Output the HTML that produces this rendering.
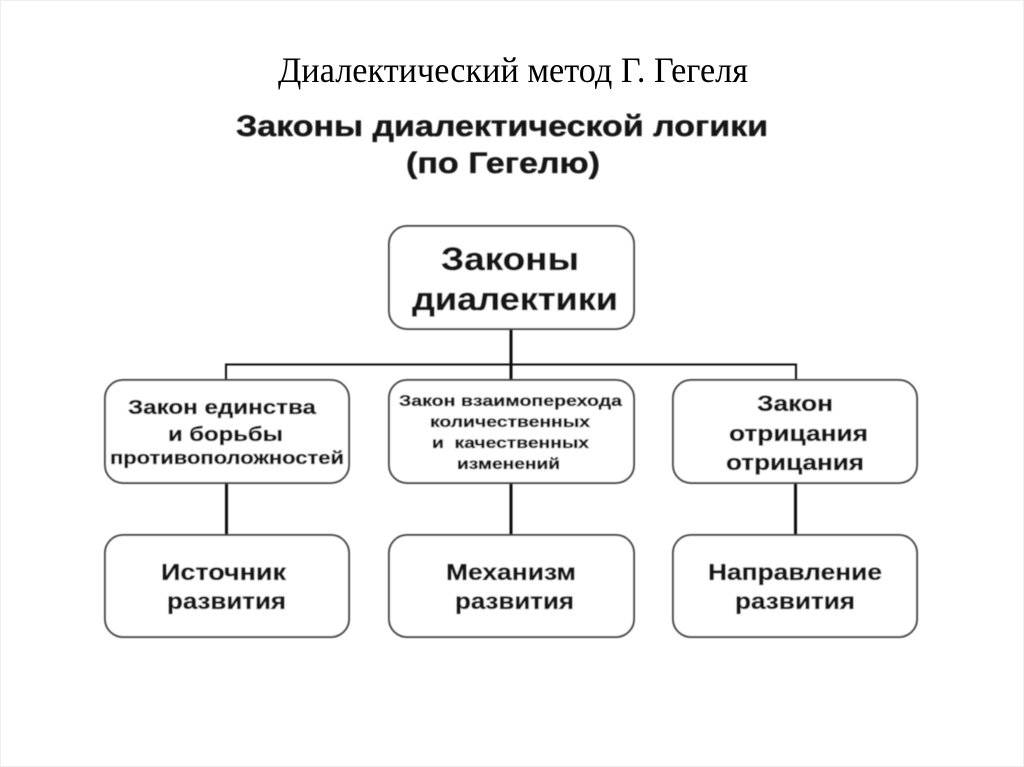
<!DOCTYPE html>
<html lang="ru">
<head>
<meta charset="utf-8">
<title>Диалектический метод Г. Гегеля</title>
<style>
html,body{margin:0;padding:0;background:#fff;width:1024px;height:767px;overflow:hidden}
svg{display:block}
.s{font-family:"Liberation Sans",sans-serif;font-weight:bold;fill:#141414;stroke:#141414;stroke-width:.35px}
</style>
</head>
<body>
<svg width="1024" height="767" viewBox="0 0 1024 767" xmlns="http://www.w3.org/2000/svg">
<defs><filter id="b" x="-5%" y="-5%" width="110%" height="110%"><feGaussianBlur stdDeviation="0.55"/></filter></defs>
<rect width="1024" height="767" fill="#fff"/>
<rect x="0.500" y="0.500" width="1023" height="766" fill="none" stroke="#eeeeee"/>
<text x="278" y="82" font-family="'Liberation Serif',serif" font-size="35.500" fill="#000" textLength="470" lengthAdjust="spacingAndGlyphs">Диалектический метод Г. Гегеля</text>
<g filter="url(#b)">
<g class="s">
<text x="236" y="136" font-size="30" textLength="532" lengthAdjust="spacingAndGlyphs">Законы диалектической логики</text>
<text x="406" y="173" font-size="30" textLength="194" lengthAdjust="spacingAndGlyphs">(по Гегелю)</text>
</g>
<g fill="none" stroke="#111">
<path d="M226 381V364.500H796V381" stroke-width="2"/>
<path d="M511 329V380M226.500 483V535M511 483V535M795.500 483V535" stroke-width="3"/>
</g>
<g fill="#fff" stroke="#444" stroke-width="2">
<rect x="389" y="226" width="245" height="103" rx="18"/>
<rect x="105" y="380" width="244" height="103" rx="18"/>
<rect x="389" y="380" width="245" height="103" rx="18"/>
<rect x="673" y="380" width="244" height="103" rx="18"/>
<rect x="105" y="535" width="244" height="102" rx="18"/>
<rect x="389" y="535" width="245" height="102" rx="18"/>
<rect x="673" y="535" width="244" height="102" rx="18"/>
</g>
<g class="s">
<text x="441" y="270" font-size="32" textLength="138" lengthAdjust="spacingAndGlyphs">Законы</text>
<text x="412" y="310" font-size="32" textLength="206" lengthAdjust="spacingAndGlyphs">диалектики</text>
<text x="128" y="414" font-size="20" textLength="188" lengthAdjust="spacingAndGlyphs">Закон единства</text>
<text x="168" y="441" font-size="20" textLength="115" lengthAdjust="spacingAndGlyphs">и борьбы</text>
<text x="110" y="464" font-size="18" textLength="234" lengthAdjust="spacingAndGlyphs">противоположностей</text>
<text x="399" y="406" font-size="16" textLength="223" lengthAdjust="spacingAndGlyphs">Закон взаимоперехода</text>
<text x="430" y="427" font-size="16" textLength="160" lengthAdjust="spacingAndGlyphs">количественных</text>
<text x="432" y="448" font-size="16" textLength="157" lengthAdjust="spacingAndGlyphs" xml:space="preserve">и  качественных</text>
<text x="457" y="469" font-size="16" textLength="103" lengthAdjust="spacingAndGlyphs">изменений</text>
<text x="757" y="411" font-size="22" textLength="76" lengthAdjust="spacingAndGlyphs">Закон</text>
<text x="729" y="441" font-size="22" textLength="139" lengthAdjust="spacingAndGlyphs">отрицания</text>
<text x="726" y="470" font-size="22" textLength="138" lengthAdjust="spacingAndGlyphs">отрицания</text>
<text x="161" y="580" font-size="23.500" textLength="125" lengthAdjust="spacingAndGlyphs">Источник</text>
<text x="167" y="609" font-size="23.500" textLength="119" lengthAdjust="spacingAndGlyphs">развития</text>
<text x="446" y="580" font-size="23.500" textLength="130" lengthAdjust="spacingAndGlyphs">Механизм</text>
<text x="455" y="609" font-size="23.500" textLength="119" lengthAdjust="spacingAndGlyphs">развития</text>
<text x="708" y="580" font-size="23.500" textLength="174" lengthAdjust="spacingAndGlyphs">Направление</text>
<text x="735" y="609" font-size="23.500" textLength="120" lengthAdjust="spacingAndGlyphs">развития</text>
</g>
</g>
</svg>
</body>
</html>
